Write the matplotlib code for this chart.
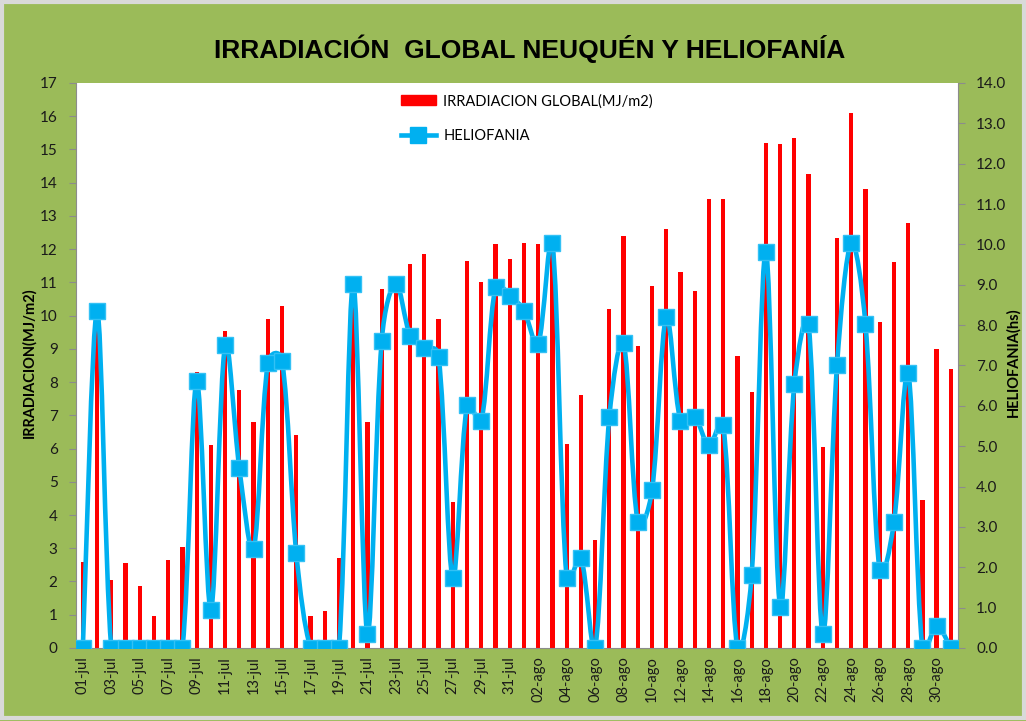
import numpy as np
import matplotlib.pyplot as plt
from matplotlib.path import Path
from matplotlib.patches import PathPatch, Rectangle
from matplotlib.lines import Line2D

# Daily data, 01-jul to 31-ago
dias = [f"{d:02d}-jul" for d in range(1, 32)] + [f"{d:02d}-ago" for d in range(1, 32)]

irradiacion = [2.6, 10.2, 2.05, 2.55, 1.85, 0.95, 2.65, 3.05, 8.3, 6.1,
               9.55, 7.75, 6.8, 9.9, 10.3, 6.4, 0.95, 1.1, 2.7, 10.9,
               6.8, 10.8, 11.2, 11.55, 11.85, 9.9, 4.4, 11.65, 11.0, 12.15,
               11.7, 12.2, 12.15, 12.25, 6.15, 7.6, 3.25, 10.2, 12.4, 9.1,
               10.9, 12.6, 11.3, 10.75, 13.5, 13.5, 8.8, 7.7, 15.2, 15.15,
               15.35, 14.25, 6.05, 12.35, 16.1, 13.8, 9.8, 11.6, 12.8, 4.45,
               9.0, 8.4]

heliofania = [0.0, 8.35, 0.0, 0.0, 0.0, 0.0, 0.0, 0.0, 6.62, 0.94,
              7.5, 4.45, 2.45, 7.05, 7.12, 2.35, 0.0, 0.0, 0.0, 9.03,
              0.35, 7.6, 9.03, 7.74, 7.43, 7.22, 1.73, 6.02, 5.62, 8.94,
              8.73, 8.36, 7.52, 10.03, 1.73, 2.24, 0.0, 5.73, 7.55, 3.11,
              3.91, 8.21, 5.62, 5.72, 5.02, 5.53, 0.0, 1.81, 9.82, 1.02,
              6.53, 8.02, 0.34, 7.01, 10.03, 8.02, 1.92, 3.11, 6.82, 0.0,
              0.55, 0.0]

verde = '#9BBB59'
rojo = '#FF0000'
azul = '#00B0F0'
font = ['Lato', 'DejaVu Sans']

fig = plt.figure(figsize=(10.26, 7.21), dpi=100, facecolor=verde)
fig.patches.append(Rectangle((0.002, 0.004), 0.996, 0.993, transform=fig.transFigure,
                             fill=False, edgecolor='#d9d9d9', lw=3))
ax = fig.add_axes([0.0738, 0.1013, 0.8599, 0.7836])
ax2 = ax.twinx()

x = np.arange(len(dias))
ax.bar(x, irradiacion, width=0.3, color=rojo, zorder=2)

# smoothed line like Excel: bezier segments, arms weighted by segment length
# (computed in screen-like units so the curve does not overshoot much)
sx, sy = 14.2, 40.4
pts = np.column_stack([x * sx, np.array(heliofania) * sy]).astype(float)
n = len(pts)
verts = [tuple(pts[0])]
codes = [Path.MOVETO]
for i in range(n - 1):
    p1, p2 = pts[i], pts[i + 1]
    p0 = pts[i - 1] if i > 0 else p1
    p3 = pts[i + 2] if i + 2 < n else p2
    d01 = np.linalg.norm(p1 - p0)
    d12 = np.linalg.norm(p2 - p1)
    d23 = np.linalg.norm(p3 - p2)
    k1 = np.sqrt(2 * d12 / (d01 + d12)) if d01 > 0 else 1.0
    k2 = np.sqrt(2 * d12 / (d12 + d23)) if d23 > 0 else 1.0
    c1 = p1 + (p2 - p0) / 6.0 * k1
    c2 = p2 - (p3 - p1) / 6.0 * k2
    verts += [tuple(c1), tuple(c2), tuple(p2)]
    codes += [Path.CURVE4] * 3
verts = [(vx / sx, vy / sy) for vx, vy in verts]
ax2.add_patch(PathPatch(Path(verts, codes), fill=False, edgecolor=azul, lw=3.3,
                        capstyle='round', joinstyle='round', zorder=3))
ax2.plot(x, heliofania, linestyle='none', marker='s', markersize=11,
         color=azul, markeredgecolor='#33c1f5', zorder=4)

ax.set_xlim(-0.5, len(dias) - 0.5)
ax.set_ylim(0, 17)
ax2.set_ylim(0, 14)
ax.set_yticks(range(0, 18))
ax2.set_yticks(np.arange(0, 15))
ax2.set_yticklabels([f"{v:.1f}" for v in range(0, 15)])
ax.set_xticks(x[::2])
ax.set_xticklabels(dias[::2], rotation=90, family=font, fontsize=10.5, color='#1a1a1a')

for a in (ax, ax2):
    a.set_facecolor('white')
    for s in a.spines.values():
        s.set_visible(False)
    a.tick_params(axis='y', length=5, color='#8c8c8c', labelsize=11, labelcolor='#1a1a1a', pad=8)
    for lab in a.get_yticklabels():
        lab.set_family(font)
ax.spines['left'].set_visible(True)
ax.spines['left'].set_color('#8c8c8c')
ax.spines['bottom'].set_visible(True)
ax.spines['bottom'].set_color('#8c8c8c')
ax2.spines['right'].set_visible(True)
ax2.spines['right'].set_color('#8c8c8c')
ax.tick_params(axis='x', which='both', length=0, pad=6)
ax.set_zorder(1)
ax2.set_zorder(2)
ax2.patch.set_visible(False)

fig.text(0.516, 0.933, 'IRRADIACIÓN  GLOBAL NEUQUÉN Y HELIOFANÍA', ha='center', va='center',
         fontsize=19, fontweight='bold', family=['Liberation Sans', 'DejaVu Sans'])
fig.text(0.028, 0.497, 'IRRADIACION(MJ/m2)', rotation=90, ha='center', va='center',
         fontsize=10.5, fontweight='bold', family=font)
fig.text(0.988, 0.497, 'HELIOFANIA(hs)', rotation=90, ha='center', va='center',
         fontsize=10.5, fontweight='bold', family=font)

handles = [Rectangle((0, 0), 1, 1, color=rojo),
           Line2D([], [], color=azul, lw=3.3, marker='s', markersize=11)]
fig.legend(handles, ['IRRADIACION GLOBAL(MJ/m2)', 'HELIOFANIA'], loc='upper left',
           bbox_to_anchor=(0.378, 0.888), frameon=False, handlelength=2.4,
           handletextpad=0.5, labelspacing=1.45, prop={'family': font, 'size': 10.5})

fig.savefig('out.png', dpi=100, facecolor=verde)
